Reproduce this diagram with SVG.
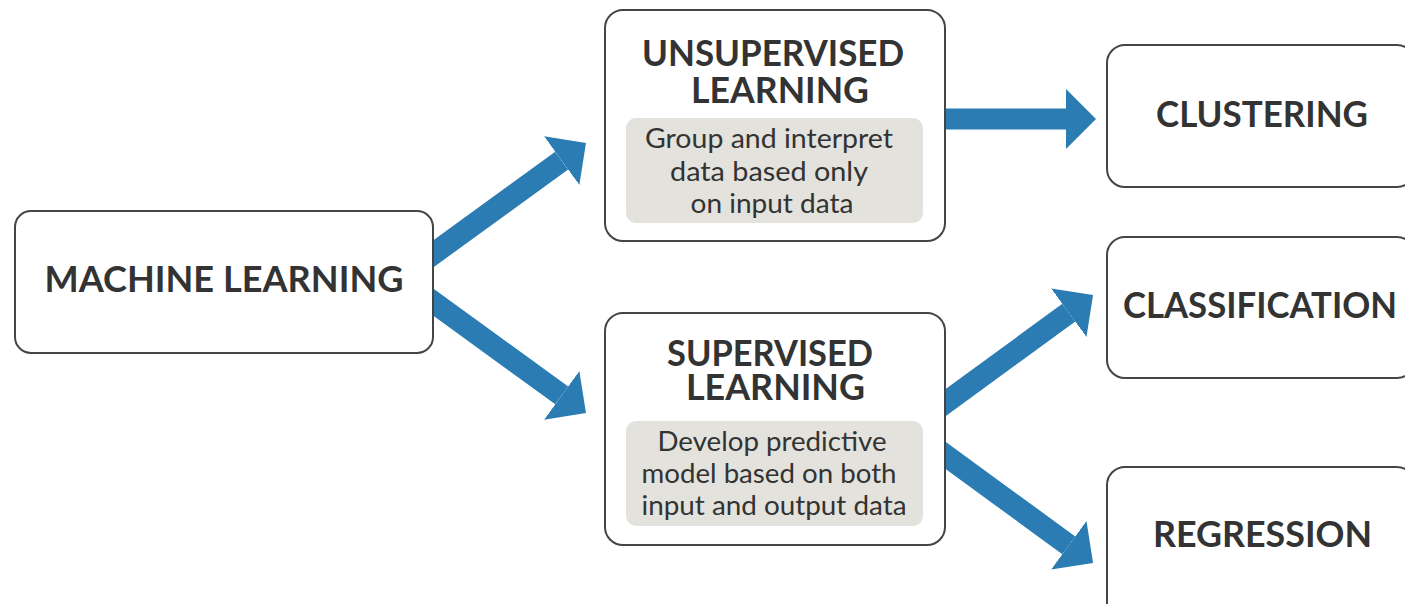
<svg xmlns="http://www.w3.org/2000/svg" width="1405" height="604" viewBox="0 0 1405 604">
<defs>
<style>
.box{fill:#ffffff;stroke:#454545;stroke-width:2}
.sub{fill:#e3e2dd;stroke:none}
.t{font-family:Lato,"Liberation Sans",sans-serif;font-weight:700;font-size:37px;fill:#323332;text-anchor:middle}
.s{font-family:Lato,"Liberation Sans",sans-serif;font-weight:400;font-size:26px;fill:#323332;text-anchor:middle}
.arr{stroke:#2b7cb3;stroke-width:22;fill:none;marker-end:url(#head)}
</style>
<marker id="head" markerUnits="userSpaceOnUse" viewBox="0 0 30 60" markerWidth="30" markerHeight="60" refX="0" refY="30" orient="auto">
<path d="M0,0 L30,30 L0,60 Z" fill="#2b7cb3"/>
</marker>
</defs>
<g id="connectors">
<line class="arr" x1="420.9" y1="262.8" x2="561.7" y2="160.6"/>
<line class="arr" x1="420.9" y1="293.2" x2="561.7" y2="395.4"/>
<line class="arr" x1="930" y1="119" x2="1066" y2="119" style="stroke-width:21"/>
<line class="arr" x1="932.9" y1="411.8" x2="1068.8" y2="312.7"/>
<line class="arr" x1="932.9" y1="446.2" x2="1068.8" y2="545.3"/>
</g>
<g id="machine-learning">
<rect class="box" x="15" y="211" width="418" height="142" rx="16"/>
<text class="t" x="224" y="292" textLength="359" lengthAdjust="spacingAndGlyphs">MACHINE LEARNING</text>
</g>
<g id="unsupervised">
<rect class="box" x="605" y="10" width="340" height="231" rx="18"/>
<text class="t" x="773" y="66" textLength="262" lengthAdjust="spacingAndGlyphs">UNSUPERVISED</text>
<text class="t" x="780" y="103" textLength="178" lengthAdjust="spacingAndGlyphs">LEARNING</text>
<rect class="sub" x="626" y="118" width="297" height="105" rx="10"/>
<text class="s" x="769" y="148" textLength="248" lengthAdjust="spacingAndGlyphs">Group and interpret</text>
<text class="s" x="769" y="181" textLength="198" lengthAdjust="spacingAndGlyphs">data based only</text>
<text class="s" x="772" y="213" textLength="163" lengthAdjust="spacingAndGlyphs">on input data</text>
</g>
<g id="supervised">
<rect class="box" x="605" y="313" width="340" height="232" rx="18"/>
<text class="t" x="770" y="366" textLength="206" lengthAdjust="spacingAndGlyphs">SUPERVISED</text>
<text class="t" x="775.5" y="400" textLength="179" lengthAdjust="spacingAndGlyphs">LEARNING</text>
<rect class="sub" x="626" y="421" width="297" height="105" rx="10"/>
<text class="s" x="772" y="451" textLength="229" lengthAdjust="spacingAndGlyphs">Develop predictive</text>
<text class="s" x="769" y="483" textLength="255" lengthAdjust="spacingAndGlyphs">model based on both</text>
<text class="s" x="774" y="515" textLength="265" lengthAdjust="spacingAndGlyphs">input and output data</text>
</g>
<g id="clustering">
<rect class="box" x="1107" y="45" width="308" height="142" rx="18"/>
<text class="t" x="1262" y="127" textLength="212" lengthAdjust="spacingAndGlyphs">CLUSTERING</text>
</g>
<g id="classification">
<rect class="box" x="1107" y="237" width="308" height="141" rx="18"/>
<text class="t" x="1260" y="318" textLength="274" lengthAdjust="spacingAndGlyphs">CLASSIFICATION</text>
</g>
<g id="regression">
<rect class="box" x="1107" y="467" width="308" height="160" rx="18"/>
<text class="t" x="1262.5" y="547" textLength="219" lengthAdjust="spacingAndGlyphs">REGRESSION</text>
</g>
</svg>
